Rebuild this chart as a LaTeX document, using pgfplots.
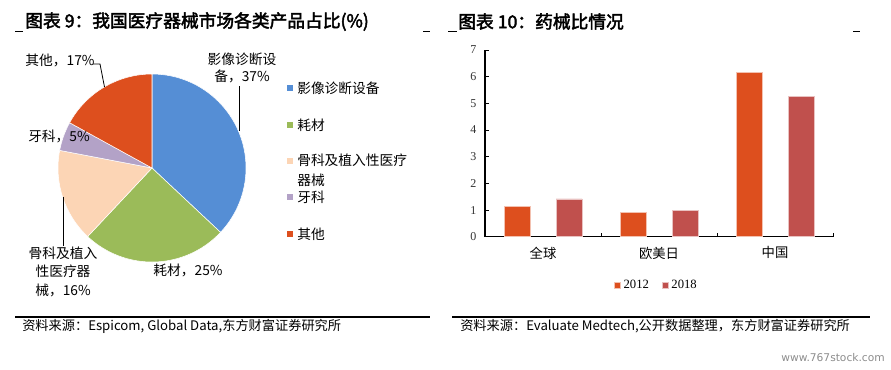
\documentclass[border=0pt]{standalone}
\usepackage{pgfplots}
\pgfplotsset{compat=1.18}
\usepackage{pgfplotstable}
\usepackage{fontspec}
\setmainfont{Liberation Serif}
\newfontfamily\cjk{Noto Sans CJK SC}
\newfontfamily\cjkb{Noto Sans CJK SC}[FakeBold=2.5]
\newfontfamily\wm{DejaVu Sans}
\definecolor{cBlue}{HTML}{558ED5}
\definecolor{cGreen}{HTML}{9BBB59}
\definecolor{cPeach}{HTML}{FCD5B5}
\definecolor{cLav}{HTML}{B3A2C7}
\definecolor{cOrange}{HTML}{DD4F1E}
\definecolor{cRed}{HTML}{C0504D}
\pgfplotstableread{
cat share
1 37
2 25
3 16
4 5
5 17
}\piedata
\newcommand\lab{\cjk\fontsize{10.3}{12.75}\selectfont}
\begin{document}%
\begin{tikzpicture}
\pgfplotstablegetelem{0}{share}\of\piedata \let\sA\pgfplotsretval
\pgfplotstablegetelem{1}{share}\of\piedata \let\sB\pgfplotsretval
\pgfplotstablegetelem{2}{share}\of\piedata \let\sC\pgfplotsretval
\pgfplotstablegetelem{3}{share}\of\piedata \let\sD\pgfplotsretval
\pgfplotstablegetelem{4}{share}\of\piedata \let\sE\pgfplotsretval
\pgfmathsetmacro\aA{90}
\pgfmathsetmacro\aB{\aA-3.6*\sA}
\pgfmathsetmacro\aC{\aB-3.6*\sB}
\pgfmathsetmacro\aD{\aC-3.6*\sC}
\pgfmathsetmacro\aE{\aD-3.6*\sD}
\pgfmathsetmacro\aF{\aE-3.6*\sE}
% pie
\begin{axis}[at={(114pt,-126pt)},anchor=center,scale only axis,width=141pt,height=141pt,
  xmin=-1,xmax=1,ymin=-1,ymax=1,hide axis,clip=false]
\fill[cBlue,draw=white,line width=0.4pt] (axis cs:0,0) -- ++(\aA:70.5pt) arc[start angle=\aA,end angle=\aB,radius=70.5pt] -- cycle;
\fill[cGreen,draw=white,line width=0.4pt] (axis cs:0,0) -- ++(\aB:70.5pt) arc[start angle=\aB,end angle=\aC,radius=70.5pt] -- cycle;
\fill[cPeach,draw=white,line width=0.4pt] (axis cs:0,0) -- ++(\aC:70.5pt) arc[start angle=\aC,end angle=\aD,radius=70.5pt] -- cycle;
\fill[cLav,draw=white,line width=0.4pt] (axis cs:0,0) -- ++(\aD:70.5pt) arc[start angle=\aD,end angle=\aE,radius=70.5pt] -- cycle;
\fill[cOrange,draw=white,line width=0.4pt] (axis cs:0,0) -- ++(\aE:70.5pt) arc[start angle=\aE,end angle=\aF,radius=70.5pt] -- cycle;
\end{axis}
% bars
\begin{axis}[at={(363.75pt,-177.53pt)},anchor=south west,scale only axis,width=261pt,height=140pt,
  xmin=0,xmax=3,ymin=0,ymax=7,
  axis x line=bottom,axis y line=left,axis line style={-,black,line width=0.8pt},
  ytick={0,...,7},tick align=inside,major tick length=3pt,tick style={black,line width=0.6pt},
  xtick={1,2,3},xticklabels={},
  extra x ticks={0.5,1.5,2.5},extra x tick labels={全球,欧美日,中国},
  extra x tick style={major tick length=0pt,tick label style={font=\cjk\fontsize{10}{11}\selectfont,yshift=-4pt}},
  y tick label style={font=\fontsize{9}{10}\selectfont,xshift=-3pt,text=black!80},
  /pgf/number format/assume math mode=true,
  legend style={at={(0.494,-0.259)},anchor=center,draw=none,legend columns=2,
    font=\fontsize{9.5}{11}\selectfont,/tikz/every even column/.append style={column sep=8pt}},
  legend image code/.code={\fill[#1] (0pt,-2.25pt) rectangle (4.5pt,2.25pt);}]
\addplot[ybar,bar width=19.5pt,bar shift=-19.5pt,fill=cOrange,draw=cOrange!35!white,line width=0.4pt]
  coordinates {(0.5,1.14) (1.5,0.90) (2.5,6.15)};
\addlegendentry{2012}
\addplot[ybar,bar width=19.5pt,bar shift=19.5pt,fill=cRed,draw=cRed!35!white,line width=0.4pt]
  coordinates {(0.5,1.42) (1.5,1.00) (2.5,5.25)};
\addlegendentry{2018}
\end{axis}
\begin{scope}[x=0.75pt,y=-0.75pt]
% titles
\node[anchor=west,inner sep=0pt,font=\cjkb\fontsize{13.3}{15}\selectfont] at (25,21.5) {图表 9：我国医疗器械市场各类产品占比(\%)};
\node[anchor=west,inner sep=0pt,font=\cjkb\fontsize{13.3}{15}\selectfont] at (458,21.5) {图表 10：药械比情况};
\draw[line width=0.6pt] (15,31)--(23,31) (423,31)--(430,31) (448,31)--(457,31) (853,31)--(860,31);
% footers
\draw[line width=0.9pt] (15,317)--(430,317) (452,317)--(870,317);
\node[anchor=west,inner sep=0pt,font=\cjk\fontsize{9.9}{11}\selectfont] at (22,326) {资料来源：Espicom, Global Data,东方财富证券研究所};
\node[anchor=west,inner sep=0pt,font=\cjk\fontsize{9.9}{11}\selectfont] at (460,326) {资料来源：Evaluate Medtech,公开数据整理，东方财富证券研究所};
\node[anchor=center,inner sep=0pt,text=black!45,font=\wm\fontsize{8}{10}\selectfont] at (833,358) {www.767stock.com};
% pie labels
\node[align=center,inner sep=0pt,font=\lab] at (242,67.5) {影像诊断设\\备，37\%};
\node[inner sep=0pt,font=\lab] at (60,60.7) {其他，17\%};
\node[inner sep=0pt,font=\lab] at (59,136.7) {牙科，5\%};
\node[align=center,inner sep=0pt,font=\cjk\fontsize{10.3}{13.9}\selectfont] at (63,271.5) {骨科及植入\\性医疗器\\械，16\%};
\node[inner sep=0pt,font=\lab] at (188,270) {耗材，25\%};
\draw[line width=0.6pt] (239,86)--(239,131);
\draw[line width=0.6pt] (93,64)--(100,64)--(104.5,87);
\draw[line width=0.6pt] (63.3,196.7)--(63.3,246);
% pie legend
\foreach \c/\yy in {cBlue/88.3,cGreen/125,cPeach/160.7,cLav/197.3,cOrange/234}
  \fill[\c] (286.7,\yy-3) rectangle (292.7,\yy+3);
\node[anchor=west,inner sep=0pt,font=\lab] at (297,88.3) {影像诊断设备};
\node[anchor=west,inner sep=0pt,font=\lab] at (297,125) {耗材};
\node[anchor=west,inner sep=0pt,font=\lab] at (297,160.7) {骨科及植入性医疗};
\node[anchor=west,inner sep=0pt,font=\lab] at (297,180) {器械};
\node[anchor=west,inner sep=0pt,font=\lab] at (297,197.3) {牙科};
\node[anchor=west,inner sep=0pt,font=\lab] at (297,234) {其他};
\end{scope}
\pgfresetboundingbox
\path[use as bounding box] (0pt,0pt) rectangle (668.25pt,-276.75pt);
\end{tikzpicture}%
\end{document}
